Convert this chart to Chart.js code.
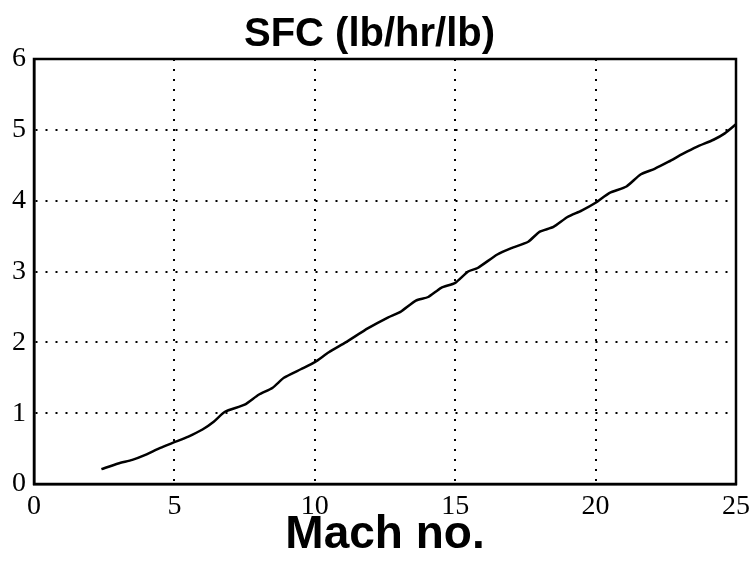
<!DOCTYPE html>
<html>
<head>
<meta charset="utf-8">
<script src="https://cdn.jsdelivr.net/npm/chart.js@4.4.1/dist/chart.umd.min.js"></script>
<style>
  html, body { margin: 0; padding: 0; background: #fff; }
  #wrap { width: 756px; height: 563px; }
</style>
</head>
<body>
<div id="wrap"><canvas id="sfc"></canvas></div>
<script>
// Mach number vs specific fuel consumption
const mach = [2.4, 3.0, 3.5, 3.9, 4.5, 5.0, 5.5, 6.0, 6.4, 6.8, 7.5, 8.0, 8.5, 8.9, 9.5, 10.0, 10.5,
  11.1, 11.9, 12.6, 13.05, 13.6, 14.04, 14.5, 15.0, 15.46, 15.8, 16.5, 17.0, 17.6, 18.0, 18.5, 19.0,
  19.5, 20.0, 20.5, 21.1, 21.6, 22.1, 22.6, 23.1, 23.6, 24.2, 24.6, 25.0];
const sfc = [0.21, 0.29, 0.34, 0.40, 0.51, 0.59, 0.67, 0.77, 0.88, 1.02, 1.12, 1.26, 1.36, 1.5, 1.62, 1.72, 1.86,
  2.0, 2.2, 2.35, 2.43, 2.59, 2.64, 2.77, 2.84, 3.0, 3.05, 3.24, 3.33, 3.42, 3.56, 3.63, 3.77,
  3.86, 3.97, 4.11, 4.2, 4.37, 4.45, 4.55, 4.66, 4.76, 4.86, 4.95, 5.08];
const xTicks = [0, 5, 10, 15, 20, 25];
const yTicks = [0, 1, 2, 3, 4, 5, 6];

const tickFont = { family: "'Liberation Serif', 'Times New Roman', serif", size: 28 };

// solid box around the whole plot area
const frame = {
  id: 'frame',
  afterDatasetsDraw(chart) {
    const { ctx, chartArea: a } = chart;
    ctx.save();
    ctx.strokeStyle = '#000';
    ctx.lineWidth = 2.5;
    ctx.strokeRect(a.left, a.top, a.right - a.left, a.bottom - a.top);
    ctx.restore();
  }
};

new Chart(document.getElementById('sfc'), {
  type: 'scatter',
  data: {
    datasets: [{
      data: mach.map((m, i) => ({ x: m, y: sfc[i] })),
      showLine: true,
      borderColor: '#000',
      borderWidth: 2.5,
      pointRadius: 0,
      tension: 0.2
    }]
  },
  options: {
    responsive: true,
    maintainAspectRatio: false,
    animation: false,
    layout: { padding: { left: 0, right: 17, top: 0, bottom: 0 } },
    plugins: {
      legend: { display: false },
      tooltip: { enabled: false },
      title: {
        display: true,
        text: 'SFC (lb/hr/lb)',
        color: '#000',
        font: { family: "'Liberation Sans', Arial, sans-serif", size: 40, weight: 'bold', lineHeight: 1.2 },
        padding: { top: 11, bottom: 0 }
      }
    },
    scales: {
      x: {
        type: 'linear',
        min: 0, max: 25,
        afterBuildTicks: s => { s.ticks = xTicks.map(v => ({ value: v })); },
        afterFit: s => { s.height = 79; },
        ticks: { color: '#000', font: tickFont, padding: 6, maxRotation: 0 },
        grid: { color: '#000', lineWidth: 2, drawTicks: false },
        border: { color: '#000', width: 2.5, dash: [2, 8] },
        title: {
          display: true,
          text: 'Mach no.',
          color: '#000',
          font: { family: "'Liberation Sans', Arial, sans-serif", size: 46, weight: 'bold', lineHeight: 1 },
          padding: { top: 0, bottom: 5 }
        }
      },
      y: {
        min: 0, max: 6,
        afterBuildTicks: s => { s.ticks = yTicks.map(v => ({ value: v })); },
        afterFit: s => { s.width = 34; },
        ticks: { color: '#000', font: tickFont, padding: 8 },
        grid: { color: '#000', lineWidth: 2, drawTicks: false },
        border: { color: '#000', width: 2.5, dash: [2, 8] }
      }
    }
  },
  plugins: [frame]
});
</script>
</body>
</html>
